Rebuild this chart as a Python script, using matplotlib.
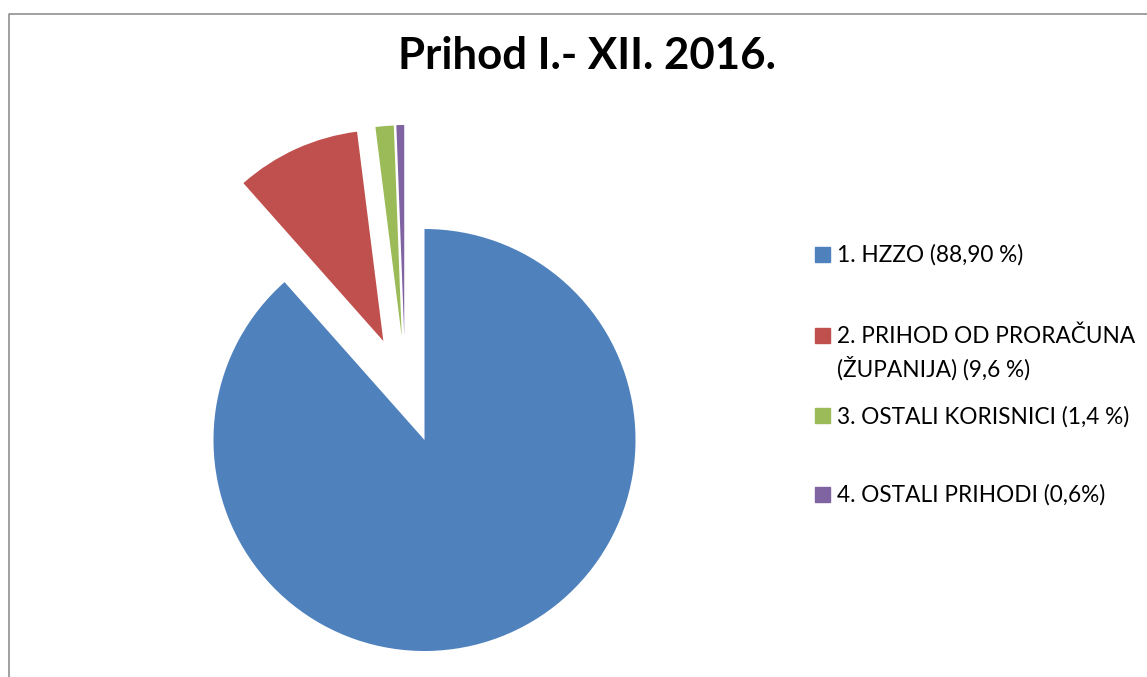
import matplotlib
matplotlib.use("Agg")
import matplotlib.pyplot as plt
from matplotlib.lines import Line2D
from matplotlib.patches import Rectangle

W, H = 1147, 677

# data
values = [88.9, 9.6, 1.4, 0.6]
labels = ["1. HZZO (88,90 %)",
          "2. PRIHOD OD PRORAČUNA\n(ŽUPANIJA) (9,6 %)",
          "3. OSTALI KORISNICI (1,4 %)",
          "4. OSTALI PRIHODI (0,6%)"]
title = "Prihod I.- XII. 2016."

# style
colors = ["#4F81BD", "#C0504D", "#9BBB59", "#8064A2"]
# slice offsets (in radius units), slices were pulled out by hand
offsets = [(0.0, 0.0), (-0.195, 0.469), (-0.108, 0.491), (-0.096, 0.493)]
legend_baselines = [261.7, 343.3, 423.3, 501.7]  # px from top

plt.rcParams["font.family"] = ["Lato", "DejaVu Sans"]

fig = plt.figure(figsize=(W / 100, H / 100), dpi=100)

# pie axes: centre at (424.5, 440) px, radius 211 px
r_px = 211
half = 1.5 * r_px
cx, cy = 424.5, H - 440
ax = fig.add_axes([(cx - half) / W, (cy - half) / H, 2 * half / W, 2 * half / H])
wedges, _ = ax.pie(values, colors=colors, startangle=90, counterclock=False,
                   radius=1, wedgeprops=dict(linewidth=0))
for w, off in zip(wedges, offsets):
    w.set_center(off)
    w.set_clip_on(False)
ax.set_xlim(-1.5, 1.5)
ax.set_ylim(-1.5, 1.5)
ax.set_aspect("equal")
ax.axis("off")

# title
fig.text(587.5 / W, 1 - 69 / H, title, ha="center", va="baseline",
         fontsize=31.5, fontweight="bold")

# legend drawn by hand to follow the original spacing
for lab, col, base in zip(labels, colors, legend_baselines):
    fig.patches.append(Rectangle((815 / W, 1 - base / H), 15 / W, 15 / H,
                                 transform=fig.transFigure, color=col))
    for k, line in enumerate(lab.split("\n")):
        fig.text(837 / W, 1 - (base + k * 33.4) / H, line, ha="left",
                 va="baseline", fontsize=16.3, color="#000000")

# chart border (only top and left visible in the crop)
fig.add_artist(Line2D([9 / W, 9 / W, 1.0], [0.0, 1 - 13.5 / H, 1 - 13.5 / H],
                      transform=fig.transFigure, color="#868686", lw=1.1))

fig.savefig("out.png", dpi=100)
